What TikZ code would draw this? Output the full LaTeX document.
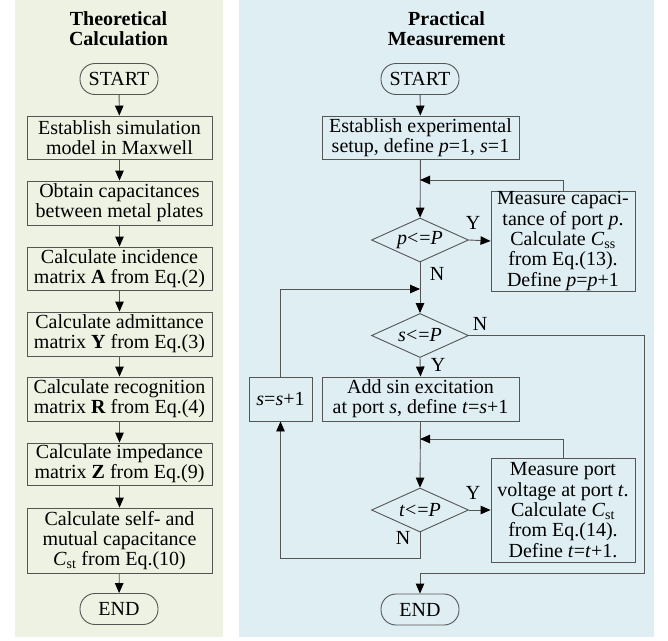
\documentclass[tikz,border=0pt]{standalone}
\usepackage{fontspec}
\setmainfont{Liberation Serif}
\usetikzlibrary{arrows.meta,shapes.geometric}
\definecolor{leftbg}{HTML}{EDF2E2}
\definecolor{rightbg}{HTML}{DFEEF3}
\definecolor{linec}{HTML}{555555}
\begin{document}
\begin{tikzpicture}[x=1pt,y=1pt,
  font=\fontsize{20}{20.3}\selectfont,
  box/.style={draw=linec, line width=0.9pt, inner sep=0pt, align=center},
  term/.style={draw=linec, line width=0.9pt, rounded corners=15pt, minimum width=78pt, minimum height=31pt, inner sep=0pt},
  dec/.style={diamond, draw=linec, line width=0.9pt, minimum width=97pt, minimum height=44pt, inner sep=0pt, aspect=2.2},
  arr/.style={draw=linec, line width=0.9pt, -{Triangle[length=10pt,width=8.5pt,color=black]}},
  title/.style={font=\fontsize{20}{20.3}\selectfont\bfseries, align=center},
  lbl/.style={inner sep=0pt}
]
\useasboundingbox (0,0) rectangle (668,-640);
\fill[leftbg] (15,0) rectangle (222.7,-637);
\fill[rightbg] (239,0) rectangle (654,-637);

% left column
\node[title] (ltitle) at (118.5,-29) {Theoretical\\Calculation};
\node[term] (lstart) at (119,-79) {START};
\node[box, minimum width=185pt, minimum height=43pt] (b1) at (119.5,-137.5) {Establish simulation\\model in Maxwell};
\node[box, minimum width=185pt, minimum height=44pt] (b2) at (119.5,-203) {Obtain capacitances\\between metal plates};
\node[box, minimum width=185pt, minimum height=43pt] (b3) at (119.5,-268.5) {Calculate incidence\\matrix \textbf{A} from Eq.(2)};
\node[box, minimum width=185pt, minimum height=44pt] (b4) at (119.5,-334) {Calculate admittance\\matrix \textbf{Y} from Eq.(3)};
\node[box, minimum width=185pt, minimum height=44pt] (b5) at (119.5,-399) {Calculate recognition\\matrix \textbf{R} from Eq.(4)};
\node[box, minimum width=185pt, minimum height=42pt] (b6) at (119.5,-464) {Calculate impedance\\matrix \textbf{Z} from Eq.(9)};
\node[box, minimum width=185pt, minimum height=65pt] (b7) at (119.5,-540.5) {Calculate self- and\\mutual capacitance\\\textit{C}\textsubscript{st} from Eq.(10)};
\node[term] (lend) at (119,-609) {END};

\draw[arr] (lstart) -- (b1);
\draw[arr] (b1) -- (b2);
\draw[arr] (b2) -- (b3);
\draw[arr] (b3) -- (b4);
\draw[arr] (b4) -- (b5);
\draw[arr] (b5) -- (b6);
\draw[arr] (b6) -- (b7);
\draw[arr] (b7) -- (lend);

% right column
\node[title] (rtitle) at (446.5,-29) {Practical\\Measurement};
\node[term] (rstart) at (420,-79) {START};
\node[box, minimum width=197pt, minimum height=43pt] (r1) at (420.5,-137.5) {Establish experimental\\setup, define \textit{p}=1, \textit{s}=1};
\node[dec] (d1) at (420,-240) {\textit{p}<\kern1pt=\textit{P}};
\node[box, minimum width=144pt, minimum height=100pt] (m1) at (563,-241) {Measure capaci-\\tance of port \textit{p}.\\Calculate \textit{C}\textsubscript{ss}\\from Eq.(13).\\Define \textit{p}=\textit{p}+1};
\node[dec] (d2) at (420,-335.5) {\textit{s}<\kern1pt=\textit{P}};
\node[box, minimum width=197pt, minimum height=44pt] (r2) at (420.5,-399) {Add sin excitation\\at port \textit{s}, define \textit{t}=\textit{s}+1};
\node[box, minimum width=63pt, minimum height=44pt] (ss) at (280.5,-399) {\textit{s}=\textit{s}+1};
\node[dec] (d3) at (420,-510) {\textit{t}<\kern1pt=\textit{P}};
\node[box, minimum width=144pt, minimum height=104pt] (m2) at (563,-510) {Measure port\\voltage at port \textit{t}.\\Calculate \textit{C}\textsubscript{st}\\from Eq.(14).\\Define \textit{t}=\textit{t}+1.};
\node[term] (rend) at (420,-609.5) {END};

\coordinate (j1) at (420,-180);
\coordinate (j2) at (420,-289);
\coordinate (j3) at (420,-439);
\coordinate (c1) at (644,-573);
\coordinate (c2) at (280.5,-558);

\draw[arr] (rstart) -- (r1);
\draw[arr] (r1) -- (d1);
\draw[arr] (m1.north) |- (j1);
\draw[arr] (d1.east) -- (m1.west);
\draw[arr] (d1.south) -- (d2.north);
\draw[arr] (ss.north) |- (j2);
\draw[arr] (d2.south) -- (r2.north);
\draw[arr] (d2.east) -| (c1) -| (rend.north);
\draw[arr] (r2.south) -- (d3.north);
\draw[arr] (m2.north) |- (j3);
\draw[arr] (d3.east) -- (m2.west);
\draw[arr] (d3.south) |- (c2) -- (ss.south);

\node[lbl] (y1) at (473,-223) {Y};
\node[lbl] (n1) at (437,-274) {N};
\node[lbl] (n2) at (480,-324) {N};
\node[lbl] (y2) at (438,-365) {Y};
\node[lbl] (y3) at (473,-493) {Y};
\node[lbl] (n3) at (403,-538) {N};
\end{tikzpicture}
\end{document}
